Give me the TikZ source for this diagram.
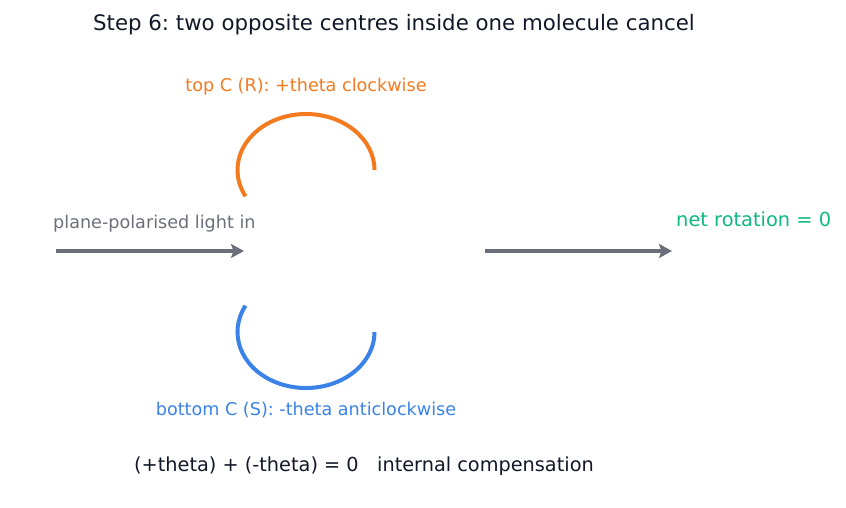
\documentclass[tikz,border=0pt]{standalone}
\usepackage{fontspec}
\setmainfont{DejaVu Sans}
\usetikzlibrary{arrows.meta,calc}
\definecolor{ttl}{HTML}{111827}
\definecolor{org}{HTML}{F47A1F}
\definecolor{blu}{HTML}{3B82E8}
\definecolor{grn}{HTML}{10B981}
\definecolor{gry}{HTML}{6B6F7A}
\tikzset{
  lbl/.style={inner sep=0pt},
  ray/.style={draw=gry, line width=4pt, -{Stealth[length=13pt,width=14pt,inset=2.5pt]}},
  arcline/.style={line width=4pt}
}
\begin{document}
\frenchspacing
\begin{tikzpicture}[x=1pt,y=-1pt]
\useasboundingbox[fill=white] (0,0) rectangle (846,508);
\node[lbl, text=ttl, font=\fontsize{21.3}{25}\selectfont] (title) at (394,25) {Step 6: two opposite centres inside one molecule cancel};
\node[lbl, text=org, font=\fontsize{17.6}{21}\selectfont] (toplbl) at (306,87) {top C (R): +theta clockwise};
\node[lbl, text=blu, font=\fontsize{17.6}{21}\selectfont] (botlbl) at (306,410) {bottom C (S): -theta anticlockwise};
\node[lbl, text=gry, font=\fontsize{17.6}{21}\selectfont, anchor=west] (inlbl) at (53,224) {plane-polarised light in};
\node[lbl, text=grn, font=\fontsize{19.4}{23}\selectfont, anchor=west] (netlbl) at (676,219.5) {net rotation = 0};
\node[lbl, text=ttl, font=\fontsize{19.3}{23}\selectfont] (sum) at (364,466) {(+theta) + (-theta) = 0\ \ \ internal compensation};
\coordinate (a1) at (56,251);
\coordinate (a2) at (244,251);
\coordinate (b1) at (485,251);
\coordinate (b2) at (672,251);
\draw[ray] (a1) -- (a2);
\draw[ray] (b1) -- (b2);
\coordinate (topc) at (306,170);
\coordinate (botc) at (306,332);
\draw[arcline, draw=org] ($(topc)+(68.5,0)$) arc[start angle=0, end angle=-208, x radius=68.5, y radius=56];
\draw[arcline, draw=blu] ($(botc)+(208:68.5 and 56)$) arc[start angle=208, end angle=0, x radius=68.5, y radius=56];
\end{tikzpicture}
\end{document}
